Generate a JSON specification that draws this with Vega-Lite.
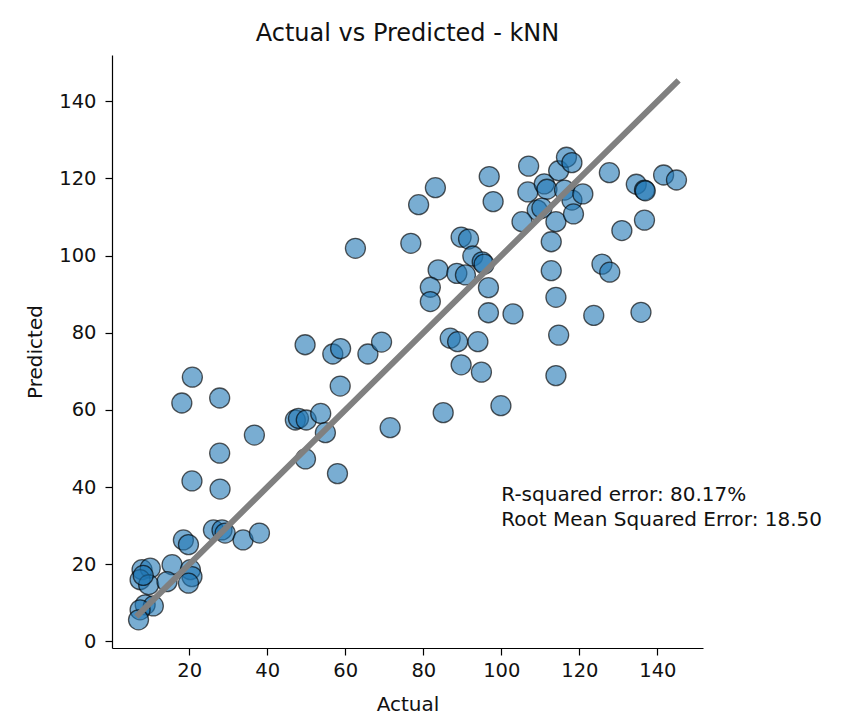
{
  "$schema": "https://vega.github.io/schema/vega-lite/v6.json",
  "width": 591,
  "height": 593,
  "autosize": {"type": "none"},
  "padding": {"left": 112, "top": 55, "right": 141, "bottom": 72},
  "background": "white",
  "config": {
    "view": {"stroke": null},
    "font": "DejaVu Sans",
    "axis": {
      "grid": false,
      "domainColor": "black",
      "domainWidth": 1.2,
      "tickColor": "black",
      "tickWidth": 1.2,
      "tickSize": 7,
      "labelFont": "DejaVu Sans",
      "labelFontSize": 19.5,
      "labelColor": "#111111",
      "titleFont": "DejaVu Sans",
      "titleFontSize": 20,
      "titleFontWeight": "normal",
      "titleColor": "#111111"
    }
  },
  "title": {
    "text": "Actual vs Predicted - kNN",
    "font": "DejaVu Sans",
    "fontSize": 24,
    "fontWeight": "normal",
    "color": "#111111",
    "anchor": "middle",
    "frame": "group",
    "baseline": "alphabetic",
    "offset": 12,
    "dy": 22
  },
  "datasets": {
    "points": [
      {"actual": 7.9, "predicted": 18.6}, {"actual": 10.0, "predicted": 19.0}, {"actual": 7.4, "predicted": 16.0},
      {"actual": 9.6, "predicted": 14.7}, {"actual": 8.2, "predicted": 17.1}, {"actual": 15.6, "predicted": 19.9},
      {"actual": 14.3, "predicted": 15.5}, {"actual": 20.3, "predicted": 18.6}, {"actual": 20.7, "predicted": 16.8},
      {"actual": 19.8, "predicted": 15.1}, {"actual": 8.7, "predicted": 9.5}, {"actual": 10.8, "predicted": 9.2},
      {"actual": 7.4, "predicted": 8.2}, {"actual": 7.0, "predicted": 5.6}, {"actual": 18.5, "predicted": 26.3},
      {"actual": 19.8, "predicted": 25.1}, {"actual": 26.2, "predicted": 28.9}, {"actual": 28.4, "predicted": 28.9},
      {"actual": 29.2, "predicted": 28.1}, {"actual": 33.8, "predicted": 26.3}, {"actual": 38.0, "predicted": 28.1},
      {"actual": 20.7, "predicted": 41.6}, {"actual": 27.9, "predicted": 39.5}, {"actual": 27.8, "predicted": 48.8},
      {"actual": 36.7, "predicted": 53.5}, {"actual": 20.8, "predicted": 68.5}, {"actual": 18.1, "predicted": 61.8},
      {"actual": 27.8, "predicted": 63.1}, {"actual": 49.7, "predicted": 76.9}, {"actual": 56.8, "predicted": 74.5},
      {"actual": 58.8, "predicted": 75.9}, {"actual": 65.8, "predicted": 74.5}, {"actual": 69.3, "predicted": 77.6},
      {"actual": 58.7, "predicted": 66.2}, {"actual": 47.2, "predicted": 57.4}, {"actual": 48.0, "predicted": 57.8},
      {"actual": 50.0, "predicted": 57.4}, {"actual": 53.7, "predicted": 59.1}, {"actual": 54.9, "predicted": 54.1},
      {"actual": 49.8, "predicted": 47.3}, {"actual": 58.0, "predicted": 43.5}, {"actual": 71.5, "predicted": 55.4},
      {"actual": 76.8, "predicted": 103.2}, {"actual": 78.8, "predicted": 113.2}, {"actual": 83.1, "predicted": 117.6},
      {"actual": 83.8, "predicted": 96.3}, {"actual": 81.8, "predicted": 91.8}, {"actual": 81.8, "predicted": 88.1},
      {"actual": 89.7, "predicted": 104.8}, {"actual": 91.6, "predicted": 104.3}, {"actual": 92.7, "predicted": 99.9},
      {"actual": 95.1, "predicted": 98.4}, {"actual": 95.6, "predicted": 97.8}, {"actual": 88.6, "predicted": 95.4},
      {"actual": 90.8, "predicted": 95.0}, {"actual": 96.7, "predicted": 91.7}, {"actual": 96.9, "predicted": 120.5},
      {"actual": 97.9, "predicted": 114.0}, {"actual": 96.7, "predicted": 85.2}, {"actual": 103.0, "predicted": 84.9},
      {"actual": 86.9, "predicted": 78.6}, {"actual": 88.8, "predicted": 77.7}, {"actual": 94.0, "predicted": 77.7},
      {"actual": 89.7, "predicted": 71.7}, {"actual": 94.9, "predicted": 69.8}, {"actual": 85.1, "predicted": 59.3},
      {"actual": 99.9, "predicted": 61.1}, {"actual": 62.6, "predicted": 101.9}, {"actual": 107.0, "predicted": 123.2},
      {"actual": 106.8, "predicted": 116.5}, {"actual": 111.0, "predicted": 118.6}, {"actual": 111.7, "predicted": 117.2},
      {"actual": 114.7, "predicted": 122.0}, {"actual": 116.7, "predicted": 125.5}, {"actual": 118.1, "predicted": 124.1},
      {"actual": 116.2, "predicted": 117.0}, {"actual": 118.1, "predicted": 114.4}, {"actual": 120.9, "predicted": 116.0},
      {"actual": 109.2, "predicted": 111.8}, {"actual": 110.4, "predicted": 112.3}, {"actual": 105.3, "predicted": 108.8},
      {"actual": 114.0, "predicted": 108.8}, {"actual": 118.5, "predicted": 110.8}, {"actual": 112.8, "predicted": 103.6},
      {"actual": 112.8, "predicted": 96.1}, {"actual": 114.0, "predicted": 89.2}, {"actual": 114.7, "predicted": 79.4},
      {"actual": 114.0, "predicted": 68.9}, {"actual": 127.7, "predicted": 121.5}, {"actual": 134.6, "predicted": 118.5},
      {"actual": 136.7, "predicted": 117.0}, {"actual": 136.9, "predicted": 116.8}, {"actual": 141.6, "predicted": 120.9},
      {"actual": 144.9, "predicted": 119.6}, {"actual": 136.7, "predicted": 109.2}, {"actual": 130.9, "predicted": 106.5},
      {"actual": 125.8, "predicted": 97.8}, {"actual": 127.8, "predicted": 95.7}, {"actual": 123.7, "predicted": 84.5},
      {"actual": 135.8, "predicted": 85.3}
    ],
    "diag": [
      {"actual": 7.0, "predicted": 7.0},
      {"actual": 144.9, "predicted": 144.9}
    ],
    "note": [
      {"actual": 100, "predicted": 30, "label": "R-squared error: 80.17%\nRoot Mean Squared Error: 18.50"}
    ]
  },
  "layer": [
    {
      "data": {"name": "points"},
      "mark": {
        "type": "point",
        "shape": "circle",
        "filled": true,
        "size": 400,
        "color": "#1f77b4",
        "fillOpacity": 0.6,
        "stroke": "black",
        "strokeOpacity": 0.65,
        "strokeWidth": 1.3
      },
      "encoding": {
        "x": {
          "field": "actual",
          "type": "quantitative",
          "title": "Actual",
          "scale": {"domain": [0.2, 151.7], "nice": false, "zero": false},
          "axis": {"values": [20, 40, 60, 80, 100, 120, 140], "labelPadding": 6, "titlePadding": 15}
        },
        "y": {
          "field": "predicted",
          "type": "quantitative",
          "title": "Predicted",
          "scale": {"domain": [-1.7, 152], "nice": false, "zero": false},
          "axis": {"values": [0, 20, 40, 60, 80, 100, 120, 140], "labelPadding": 9, "titlePadding": 13}
        }
      }
    },
    {
      "data": {"name": "diag"},
      "mark": {"type": "line", "color": "gray", "strokeWidth": 6, "strokeCap": "square"},
      "encoding": {
        "x": {"field": "actual", "type": "quantitative"},
        "y": {"field": "predicted", "type": "quantitative"}
      }
    },
    {
      "data": {"name": "note"},
      "mark": {
        "type": "text",
        "align": "left",
        "baseline": "alphabetic",
        "lineBreak": "\n",
        "lineHeight": 25,
        "dy": -25,
        "font": "DejaVu Sans",
        "fontSize": 20,
        "color": "#111111"
      },
      "encoding": {
        "x": {"field": "actual", "type": "quantitative"},
        "y": {"field": "predicted", "type": "quantitative"},
        "text": {"field": "label"}
      }
    }
  ]
}
